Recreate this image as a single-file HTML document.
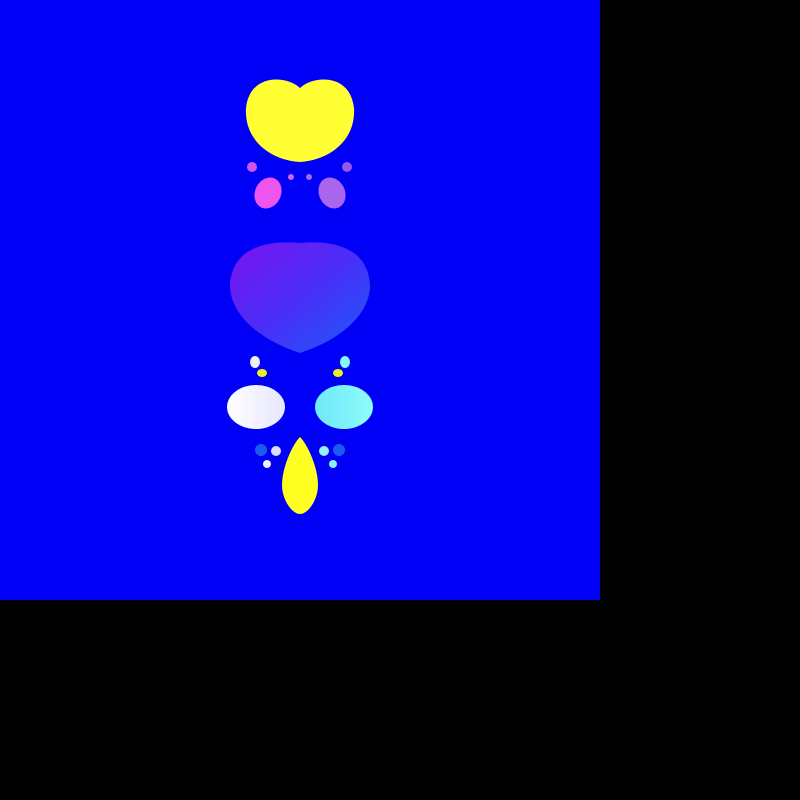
<!DOCTYPE html>
<html><head><meta charset="utf-8"><style>html,body{margin:0;padding:0;background:#000;width:800px;height:800px;overflow:hidden}</style></head>
<body>
<svg width="800" height="800" viewBox="0 0 800 800">
<defs>
<linearGradient id="g1" x1="0" y1="0" x2="1" y2="1">
<stop offset="0" stop-color="#7a14f0"/><stop offset="0.5" stop-color="#4a2ef8"/><stop offset="1" stop-color="#1a5cf8"/></linearGradient>
<linearGradient id="gw" x1="0" y1="0" x2="1" y2="0"><stop offset="0" stop-color="#fff"/><stop offset="1" stop-color="#e6e6ff"/></linearGradient>
<linearGradient id="gc" x1="0" y1="0" x2="1" y2="0"><stop offset="0" stop-color="#6ee8f8"/><stop offset="1" stop-color="#8efcfc"/></linearGradient>
</defs>
<rect x="0" y="0" width="800" height="800" fill="#000"/>
<rect x="0" y="0" width="600" height="600" fill="#0000f6"/>
<path fill="#ffff33" d="M300,88 C288,76 250,72 246,108 C244,140 270,160 300,162 C330,160 356,140 354,108 C350,72 312,76 300,88 Z"/>
<ellipse cx="268" cy="193" rx="13" ry="16" fill="#ee55ee" transform="rotate(25 268 193)"/>
<ellipse cx="332" cy="193" rx="13" ry="16" fill="#aa66ee" transform="rotate(-25 332 193)"/>
<circle cx="252" cy="167" r="5" fill="#cc55ee"/>
<circle cx="347" cy="167" r="5" fill="#9955ee"/>
<circle cx="291" cy="177" r="3" fill="#cc66ee"/>
<circle cx="309" cy="177" r="3" fill="#aa66ee"/>
<path fill="url(#g1)" d="M300,243 C270,240 232,246 230,285 C230,315 260,340 300,353 C340,340 370,315 370,285 C368,246 330,240 300,243 Z"/>
<ellipse cx="256" cy="407" rx="29" ry="22" fill="url(#gw)"/>
<ellipse cx="344" cy="407" rx="29" ry="22" fill="url(#gc)"/>
<ellipse cx="255" cy="362" rx="5" ry="6" fill="#eeeeff"/>
<ellipse cx="345" cy="362" rx="5" ry="6" fill="#88f8f8"/>
<ellipse cx="262" cy="373" rx="5" ry="4" fill="#eeee22"/>
<ellipse cx="338" cy="373" rx="5" ry="4" fill="#eeee22"/>
<circle cx="261" cy="450" r="6" fill="#1a5cf0"/>
<circle cx="339" cy="450" r="6" fill="#1a5cf0"/>
<circle cx="276" cy="451" r="5" fill="#ddddff"/>
<circle cx="324" cy="451" r="5" fill="#99f0f8"/>
<circle cx="267" cy="464" r="4" fill="#eeeeff"/>
<circle cx="333" cy="464" r="4" fill="#88f0f8"/>
<path fill="#ffff22" d="M300,437 C292,445 282,468 282,485 C282,500 292,514 300,514 C308,514 318,500 318,485 C318,468 308,445 300,437 Z"/>
</svg>
</body></html>
